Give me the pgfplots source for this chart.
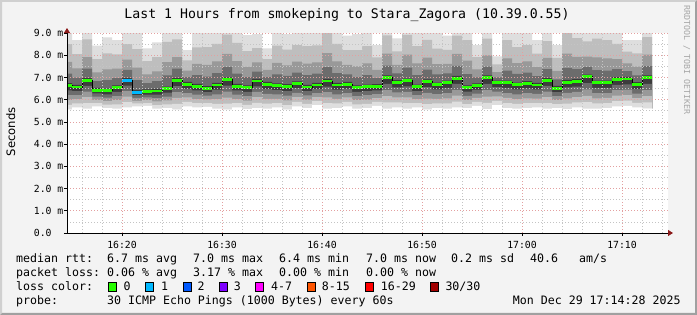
\documentclass[border=0pt]{standalone}
\usepackage{fontspec}
\setmainfont{DejaVu Sans Mono}
\newfontfamily\dvsans{DejaVu Sans}
\usepackage{pgfplots}
\usepackage{pgfplotstable}
\pgfplotsset{compat=1.18}
\usetikzlibrary{arrows.meta}
\definecolor{canvas}{HTML}{F3F3F3}
\definecolor{framelight}{HTML}{D0D0D0}
\definecolor{framedark}{HTML}{A0A0A0}
\definecolor{smA}{HTML}{DEDEDE}
\definecolor{smB}{HTML}{BEBEBE}
\definecolor{smC}{HTML}{999999}
\definecolor{smD}{HTML}{6C6C6C}
\definecolor{smE}{HTML}{3C3C3C}
\definecolor{mgrid}{HTML}{E3A0A0}
\definecolor{mingrid}{HTML}{C4C4C4}
\definecolor{arrowred}{HTML}{8B1A1A}
\definecolor{lossA}{HTML}{26FF00}
\definecolor{lossB}{HTML}{00B8FF}
\definecolor{lossC}{HTML}{0059FF}
\definecolor{lossD}{HTML}{7E00FF}
\definecolor{lossE}{HTML}{FF00FF}
\definecolor{lossF}{HTML}{FF5500}
\definecolor{lossG}{HTML}{FF0000}
\definecolor{lossH}{HTML}{A10000}

\pgfplotstableread{
t lo0 lo1 lo2 lo3 lo4 m hi4 hi3 hi2 hi1 hi0
14.5 5.55 5.77 5.99 6.20 6.42 6.64 6.74 7.17 7.70 8.50 9.30
15 5.65 5.83 6.02 6.20 6.39 6.57 6.67 6.99 7.41 8.05 8.68
16 5.60 5.85 6.11 6.36 6.62 6.87 6.97 7.40 7.92 8.71 9.50
17 5.70 5.85 5.99 6.14 6.28 6.43 6.53 6.83 7.23 7.83 8.43
18 5.62 5.78 5.93 6.09 6.24 6.40 6.50 6.88 7.36 8.08 8.80
19 5.60 5.79 5.98 6.16 6.35 6.54 6.64 6.97 7.40 8.04 8.68
20 5.65 5.89 6.14 6.38 6.63 6.87 6.97 7.34 7.80 8.50 9.20
21 5.70 5.83 5.95 6.08 6.20 6.33 6.43 6.88 7.44 8.27 9.10
22 5.72 5.85 5.98 6.10 6.23 6.36 6.46 6.75 7.14 7.73 8.31
23 5.60 5.76 5.92 6.07 6.23 6.39 6.49 6.83 7.27 7.92 8.58
24 5.62 5.79 5.97 6.14 6.32 6.49 6.59 7.09 7.69 8.60 9.50
25 5.55 5.81 6.08 6.34 6.61 6.87 6.97 7.40 7.92 8.71 9.50
26 5.70 5.90 6.10 6.30 6.50 6.70 6.80 7.01 7.31 7.77 8.23
27 5.65 5.84 6.03 6.23 6.42 6.61 6.71 7.11 7.61 8.35 9.10
28 5.68 5.85 6.01 6.18 6.34 6.51 6.61 7.04 7.57 8.36 9.15
29 5.60 5.81 6.02 6.24 6.45 6.66 6.76 7.19 7.72 8.51 9.30
30 5.55 5.82 6.09 6.36 6.63 6.90 7.00 7.48 8.06 8.93 9.80
31 5.65 5.84 6.03 6.23 6.42 6.61 6.71 7.17 7.73 8.56 9.40
32 5.58 5.77 5.96 6.16 6.35 6.54 6.64 7.01 7.48 8.19 8.90
33 5.62 5.86 6.11 6.35 6.60 6.84 6.94 7.26 7.68 8.32 8.95
34 5.60 5.82 6.04 6.26 6.48 6.70 6.80 7.02 7.34 7.83 8.31
35 5.65 5.85 6.04 6.24 6.43 6.63 6.73 7.14 7.66 8.43 9.20
36 5.55 5.76 5.97 6.18 6.39 6.60 6.70 7.07 7.54 8.25 8.95
37 5.70 5.90 6.11 6.31 6.52 6.72 6.82 7.22 7.71 8.46 9.20
38 5.62 5.81 6.00 6.19 6.38 6.57 6.67 7.10 7.62 8.41 9.20
39 5.75 5.93 6.11 6.30 6.48 6.66 6.76 7.17 7.68 8.44 9.20
40 5.60 5.85 6.10 6.34 6.59 6.84 6.94 7.47 8.10 9.05 10.00
41 5.62 5.83 6.04 6.24 6.45 6.66 6.76 7.19 7.72 8.51 9.30
42 5.70 5.90 6.10 6.30 6.50 6.70 6.80 7.14 7.57 8.23 8.88
43 5.60 5.79 5.98 6.16 6.35 6.54 6.64 7.02 7.50 8.23 8.95
44 5.62 5.81 6.00 6.20 6.39 6.58 6.68 7.10 7.63 8.41 9.20
45 5.72 5.90 6.07 6.25 6.42 6.60 6.70 6.97 7.34 7.90 8.46
46 5.60 5.88 6.16 6.43 6.71 6.99 7.09 7.53 8.07 8.89 9.70
47 5.65 5.88 6.10 6.33 6.55 6.78 6.88 7.18 7.57 8.17 8.76
48 5.60 5.85 6.10 6.35 6.60 6.85 6.95 7.44 8.03 8.92 9.80
49 5.65 5.84 6.02 6.21 6.39 6.58 6.68 7.10 7.63 8.41 9.20
50 5.55 5.80 6.05 6.31 6.56 6.81 6.91 7.35 7.89 8.69 9.50
51 5.62 5.83 6.04 6.25 6.46 6.67 6.77 7.14 7.60 8.30 9.00
52 5.60 5.83 6.06 6.30 6.53 6.76 6.86 7.18 7.61 8.24 8.88
53 5.65 5.91 6.18 6.44 6.71 6.97 7.07 7.52 8.06 8.88 9.70
54 5.62 5.80 5.99 6.17 6.36 6.54 6.64 7.15 7.76 8.68 9.60
55 5.72 5.90 6.08 6.27 6.45 6.63 6.73 7.00 7.36 7.91 8.46
56 5.58 5.86 6.14 6.43 6.71 6.99 7.09 7.49 7.99 8.75 9.50
57 5.75 5.95 6.15 6.36 6.56 6.76 6.86 7.00 7.24 7.59 7.95
58 5.62 5.85 6.08 6.30 6.53 6.76 6.86 7.31 7.86 8.68 9.50
59 5.60 5.81 6.03 6.24 6.46 6.67 6.77 7.16 7.64 8.37 9.10
60 5.62 5.84 6.06 6.29 6.51 6.73 6.83 7.22 7.72 8.46 9.20
61 5.65 5.85 6.05 6.26 6.46 6.66 6.76 7.06 7.47 8.07 8.68
62 5.60 5.85 6.11 6.36 6.62 6.87 6.97 7.38 7.88 8.64 9.40
63 5.62 5.80 5.98 6.16 6.34 6.52 6.62 6.91 7.30 7.88 8.46
64 5.58 5.82 6.06 6.31 6.55 6.79 6.89 7.43 8.07 9.04 10.00
65 5.65 5.88 6.12 6.35 6.59 6.82 6.92 7.38 7.93 8.77 9.60
66 5.60 5.89 6.17 6.46 6.74 7.03 7.13 7.48 7.94 8.62 9.30
67 5.60 5.83 6.06 6.30 6.53 6.76 6.86 7.33 7.90 8.75 9.60
68 5.62 5.85 6.08 6.30 6.53 6.76 6.86 7.31 7.86 8.68 9.50
69 5.70 5.94 6.18 6.43 6.67 6.91 7.01 7.37 7.83 8.51 9.20
70 5.72 5.96 6.20 6.45 6.69 6.93 7.03 7.28 7.63 8.16 8.68
71 5.65 5.86 6.07 6.27 6.48 6.69 6.79 7.09 7.49 8.08 8.68
72 5.60 5.88 6.16 6.43 6.71 6.99 7.09 7.51 8.03 8.82 9.60
73 5.60 5.88 6.16 6.43 6.71 6.99 7.09 7.51 8.03 8.82 9.60
}\smoke

% lower smoke edge, carried to the right end of the axis so that the white
% cover has no seam at the last column
\pgfplotstableread{
t lo0
14.0 5.55
72 5.60
73 5.60
74.6 5.60
75 5.60
}\lowtail

\pgfplotstableread{
t m
20 6.87
21 6.33
22 6.33
}\lossone

\newcommand{\lgfont}{\fontsize{11.6bp}{14bp}\selectfont}

\begin{document}
\begin{tikzpicture}
\path[use as bounding box] (0bp,0bp) rectangle (697bp,315bp);
\fill[canvas] (0bp,0bp) rectangle (697bp,315bp);
\fill[framelight] (0bp,0bp) -- (0bp,315bp) -- (697bp,315bp) -- (695bp,313bp) -- (2bp,313bp) -- (2bp,2bp) -- cycle;
\fill[framedark] (0bp,0bp) -- (697bp,0bp) -- (697bp,315bp) -- (695bp,313bp) -- (695bp,2bp) -- (2bp,2bp) -- cycle;

\begin{axis}[
  at={(67bp,82bp)}, anchor=south west,
  width=601bp, height=200bp, scale only axis,
  xmin=14.5, xmax=74.6, ymin=0, ymax=9,
  axis background/.style={fill=white},
  axis on top,
  axis lines=left,
  axis line style={line width=0.9bp, black, shorten >=-5bp,
    -{Triangle[length=5bp,width=6bp,color=arrowred]}},
  xtick={20,30,40,50,60,70},
  xticklabels={16:20,16:30,16:40,16:50,17:00,17:10},
  minor xtick={16,18,...,74},
  ytick={0,1,2,3,4,5,6,7,8,9},
  yticklabels={0.0,1.0 m,2.0 m,3.0 m,4.0 m,5.0 m,6.0 m,7.0 m,8.0 m,9.0 m},
  minor ytick={0.5,1.5,2.5,3.5,4.5,5.5,6.5,7.5,8.5},
  grid=both,
  major grid style={mgrid, line width=0.7bp, dash pattern=on 1bp off 2bp},
  minor grid style={mingrid, line width=0.7bp, dash pattern=on 1bp off 2bp},
  tick style={black, line width=0.6bp},
  major tick length=3bp, minor tick length=0bp,
  tick align=outside,
  ticklabel style={font=\fontsize{9.8bp}{11bp}\selectfont},
  xticklabel style={anchor=base, inner sep=0pt, yshift=-12bp},
  yticklabel style={anchor=west, inner sep=0pt, xshift=-30.3bp},
  /pgf/number format/assume math mode=true,
  clip=true,
]
\addplot[const plot, fill=smA, draw=none] table[x=t,y=hi0]{\smoke} \closedcycle;
\addplot[const plot, fill=smB, draw=none] table[x=t,y=hi1]{\smoke} \closedcycle;
\addplot[const plot, fill=smC, draw=none] table[x=t,y=hi2]{\smoke} \closedcycle;
\addplot[const plot, fill=smD, draw=none] table[x=t,y=hi3]{\smoke} \closedcycle;
\addplot[const plot, fill=smE, draw=none] table[x=t,y=hi4]{\smoke} \closedcycle;
\addplot[const plot, fill=smD, draw=none] table[x=t,y=lo4]{\smoke} \closedcycle;
\addplot[const plot, fill=smC, draw=none] table[x=t,y=lo3]{\smoke} \closedcycle;
\addplot[const plot, fill=smB, draw=none] table[x=t,y=lo2]{\smoke} \closedcycle;
\addplot[const plot, fill=smA, draw=none] table[x=t,y=lo1]{\smoke} \closedcycle;
\addplot[const plot, fill=white, draw=none] table[x=t,y=lo0]{\smoke} \closedcycle;
\addplot[const plot, fill=white, draw=none] table[x=t,y=lo0]{\lowtail} \closedcycle;
\addplot[const plot, black, line width=0.8bp] table[x=t,y=m]{\smoke};
\addplot[jump mark left, lossA, line width=2.8bp] table[x=t,y=m]{\smoke};
\addplot[jump mark left, lossB, line width=2.8bp] table[x=t,y=m]{\lossone};
\end{axis}

\node[anchor=base, inner sep=0pt, font=\fontsize{13.2bp}{16bp}\selectfont] at (347bp,296.7bp)
  {Last 1 Hours from smokeping to Stara\_Zagora (10.39.0.55)};
\node[rotate=90, anchor=base, inner sep=0pt, font=\dvsans\fontsize{11.6bp}{14bp}\selectfont] at (15bp,183.3bp) {Seconds};
\node[rotate=-90, anchor=base, inner sep=0pt, text=black!35, font=\fontsize{8.3bp}{10bp}\selectfont] at (684bp,255bp) {RRDTOOL / TOBI OETIKER};

\begin{scope}[every node/.style={anchor=base west, inner sep=0pt, font=\lgfont}]
\node at (16bp,52.3bp) {median rtt:};
\node at (107bp,52.3bp) {6.7 ms avg};
\node at (193bp,52.3bp) {7.0 ms max};
\node at (279bp,52.3bp) {6.4 ms min};
\node at (366bp,52.3bp) {7.0 ms now};
\node at (451bp,52.3bp) {0.2 ms sd};
\node at (530bp,52.3bp) {40.6};
\node at (579bp,52.3bp) {am/s};

\node at (16bp,38.3bp) {packet loss:};
\node at (107bp,38.3bp) {0.06 \% avg};
\node at (193bp,38.3bp) {3.17 \% max};
\node at (279bp,38.3bp) {0.00 \% min};
\node at (366bp,38.3bp) {0.00 \% now};

\node at (16bp,24.3bp) {loss color:};
\node at (123.3bp,24.3bp) {0};
\node at (161bp,24.3bp) {1};
\node at (197.3bp,24.3bp) {2};
\node at (233.7bp,24.3bp) {3};
\node at (271bp,24.3bp) {4-7};
\node at (321.7bp,24.3bp) {8-15};
\node at (380.7bp,24.3bp) {16-29};
\node at (445.3bp,24.3bp) {30/30};

\node at (16bp,10.3bp) {probe:};
\node at (107bp,10.3bp) {30 ICMP Echo Pings (1000 Bytes) every 60s};
\node at (512.7bp,10.3bp) {Mon Dec 29 17:14:28 2025};
\end{scope}
\begin{scope}[line width=0.7bp]
\draw[fill=lossA] (108.3bp,23.3bp) rectangle (116.3bp,32.7bp);
\draw[fill=lossB] (145.7bp,23.3bp) rectangle (153.7bp,32.7bp);
\draw[fill=lossC] (183bp,23.3bp) rectangle (191bp,32.7bp);
\draw[fill=lossD] (219bp,23.3bp) rectangle (227bp,32.7bp);
\draw[fill=lossE] (255.7bp,23.3bp) rectangle (263.7bp,32.7bp);
\draw[fill=lossF] (307.3bp,23.3bp) rectangle (315.3bp,32.7bp);
\draw[fill=lossG] (365.3bp,23.3bp) rectangle (373.3bp,32.7bp);
\draw[fill=lossH] (430.3bp,23.3bp) rectangle (438.3bp,32.7bp);
\end{scope}
\end{tikzpicture}
\end{document}
